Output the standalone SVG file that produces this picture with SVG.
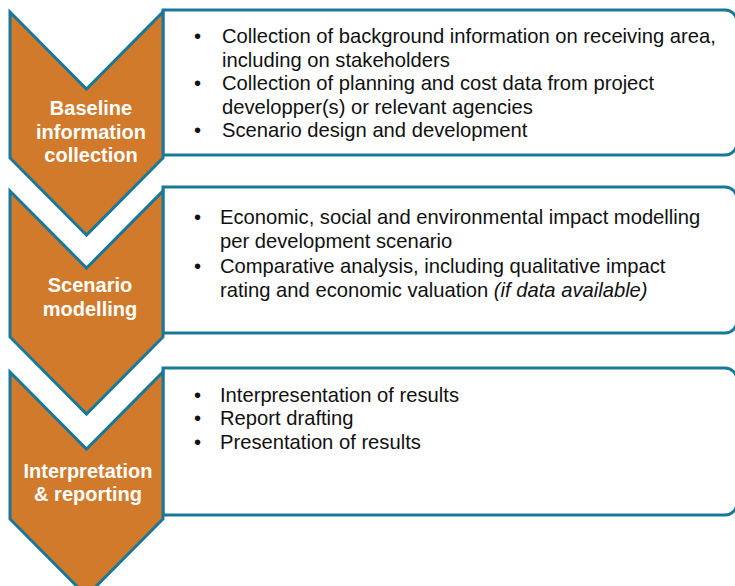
<svg xmlns="http://www.w3.org/2000/svg" width="735" height="586" viewBox="0 0 735 586">
  <style>
    .chev { fill: #D17A2B; stroke: #19789A; stroke-width: 3; stroke-linejoin: miter; }
    .box { fill: #FFFFFF; stroke: #19789A; stroke-width: 3; }
    .lbl { font-family: "Liberation Sans", Arial, sans-serif; font-weight: bold; font-size: 20px; fill: #FFFFFF; text-anchor: middle; }
    .txt { font-family: "Liberation Sans", Arial, sans-serif; font-size: 20.2px; fill: #111111; }
    .it { font-style: italic; }
  </style>
  <rect width="735" height="586" fill="#FFFFFF"/>

  <g id="step1">
    <path class="box" d="M163,10 H725 A12,12 0 0 1 737,22 V143 A12,12 0 0 1 725,155 H163 Z"/>
    <path class="chev" d="M10,12 L86.5,89 L163,12 V158 L86.5,235 L10,158 Z"/>
    <text class="lbl"><tspan x="91" y="115">Baseline</tspan><tspan x="91" y="138.5">information</tspan><tspan x="91" y="162">collection</tspan></text>
    <text class="txt">
      <tspan x="194" y="43">•</tspan><tspan x="222" y="43">Collection of background information on receiving area,</tspan>
      <tspan x="222" y="66.5">including on stakeholders</tspan>
      <tspan x="194" y="90">•</tspan><tspan x="222" y="90">Collection of planning and cost data from project</tspan>
      <tspan x="222" y="113.5">developper(s) or relevant agencies</tspan>
      <tspan x="194" y="137">•</tspan><tspan x="222" y="137">Scenario design and development</tspan>
    </text>
  </g>

  <g id="step2">
    <path class="box" d="M163,187 H725 A12,12 0 0 1 737,199 V321 A12,12 0 0 1 725,333 H163 Z"/>
    <path class="chev" d="M10,191 L86.5,268 L163,191 V337 L86.5,414 L10,337 Z"/>
    <text class="lbl"><tspan x="90" y="292">Scenario</tspan><tspan x="90" y="315.5">modelling</tspan></text>
    <text class="txt">
      <tspan x="194" y="224">•</tspan><tspan x="220" y="224">Economic, social and environmental impact modelling</tspan>
      <tspan x="220" y="248.3">per development scenario</tspan>
      <tspan x="194" y="272.6">•</tspan><tspan x="220" y="272.6">Comparative analysis, including qualitative impact</tspan>
      <tspan x="220" y="297">rating and economic valuation <tspan class="it">(if data available)</tspan></tspan>
    </text>
  </g>

  <g id="step3">
    <path class="box" d="M163,368 H725 A12,12 0 0 1 737,380 V503 A12,12 0 0 1 725,515 H163 Z"/>
    <path class="chev" d="M10,372 L86.5,449 L163,372 V519 L86.5,596 L10,519 Z"/>
    <text class="lbl"><tspan x="88" y="478">Interpretation</tspan><tspan x="88" y="501">&amp; reporting</tspan></text>
    <text class="txt">
      <tspan x="194" y="402">•</tspan><tspan x="220" y="402">Interpresentation of results</tspan>
      <tspan x="194" y="425">•</tspan><tspan x="220" y="425">Report drafting</tspan>
      <tspan x="194" y="449">•</tspan><tspan x="220" y="449">Presentation of results</tspan>
    </text>
  </g>

  <g id="connectors"></g>
</svg>
